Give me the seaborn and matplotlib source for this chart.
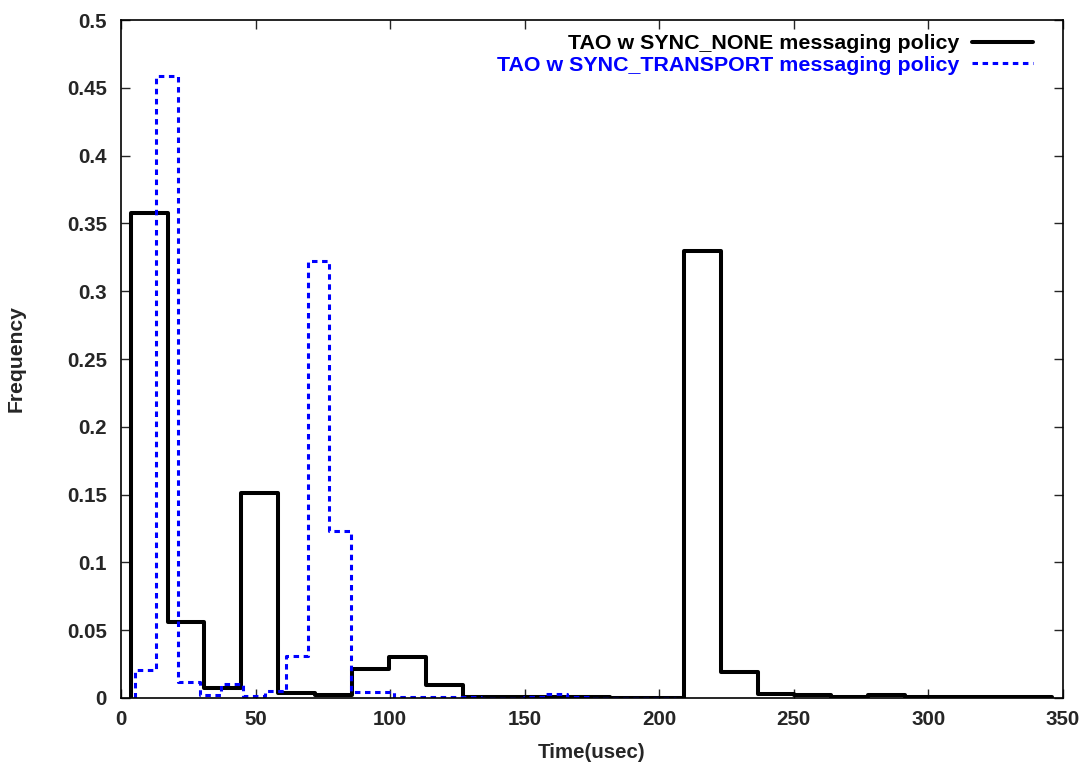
import numpy as np
import pandas as pd
import matplotlib
matplotlib.use('Agg')
import matplotlib.pyplot as plt
import seaborn as sns
from matplotlib.ticker import FuncFormatter

# histogram (bin start, bin width, frequency per bin)
none_start = 3.6
none_width = 13.7
none_freq = [0.358, 0.056, 0.0076, 0.151, 0.004, 0.0022, 0.0214, 0.0305, 0.0096,
             0.001, 0.0008, 0.0005, 0.0004, 0.0003, 0.0002, 0.33, 0.0195, 0.003,
             0.0025, 0.001, 0.0025, 0.0008, 0.0005, 0.0005, 0.0004]

transport_start = 5.1
transport_width = 8.04
transport_freq = [0.021, 0.459, 0.012, 0.0022, 0.0105, 0.0015, 0.0055, 0.031, 0.322,
                  0.123, 0.0045, 0.0045, 0.0008, 0.0005, 0.0004, 0.0004, 0.0003,
                  0.0003, 0.0005, 0.0027, 0.0008, 0.0003, 0.0002, 0.0002, 0.0001]

label_none = 'TAO w SYNC_NONE messaging policy'
label_transport = 'TAO w SYNC_TRANSPORT messaging policy'

sns.set_style('ticks')
plt.rcParams['font.family'] = ['Liberation Sans', 'DejaVu Sans']
plt.rcParams['font.weight'] = 'bold'
plt.rcParams['axes.labelweight'] = 'bold'

fig = plt.figure(figsize=(10.86, 7.64), dpi=100)
ax = fig.add_axes([0.1114, 0.0864, 0.8674, 0.8874])


def draw_hist(start, width, freq, **kw):
    edges = start + width * np.arange(len(freq) + 1)
    # a zero-width-ish empty bin first so the outline rises from the baseline
    edges = np.r_[start - 0.01, edges]
    freq = [0.0] + list(freq)
    df = pd.DataFrame({'t': (edges[:-1] + edges[1:]) / 2, 'f': freq})
    sns.histplot(data=df, x='t', weights='f', bins=edges.tolist(), element='step',
                 fill=False, ax=ax, **kw)


draw_hist(none_start, none_width, none_freq, color='black', lw=2.9,
          label=label_none)
draw_hist(transport_start, transport_width, transport_freq, color='#0000ff',
          lw=2.2, linestyle=(0, (1.8, 1.5)), label=label_transport)

ax.set_xlim(0, 350)
ax.set_ylim(0, 0.5)
ax.set_xticks(np.arange(0, 351, 50))
ax.set_yticks(np.arange(0, 0.501, 0.05))
ax.yaxis.set_major_formatter(FuncFormatter(lambda v, p: '%g' % round(v, 3)))
ax.tick_params(direction='in', top=True, right=True, length=6.3, width=1,
               labelsize=14.8)
ax.tick_params(axis='x', pad=9)
ax.tick_params(axis='y', pad=10)
for s in ax.spines.values():
    s.set_linewidth(1.2)
    s.set_color('black')

ax.set_xlabel('Time(usec)', fontsize=14.8, fontweight='bold', labelpad=10)
ax.set_ylabel('Frequency', fontsize=15.2, fontweight='bold', labelpad=30)

leg = ax.legend(loc='upper right', bbox_to_anchor=(0.968, 0.979), frameon=False,
                markerfirst=False, fontsize=15.4, handlelength=2.85,
                labelspacing=0.12, labelcolor='linecolor', borderaxespad=0,
                borderpad=0, handletextpad=0.6)
for t in leg.get_texts():
    t.set_fontweight('bold')

fig.savefig('out.png', dpi=100)
